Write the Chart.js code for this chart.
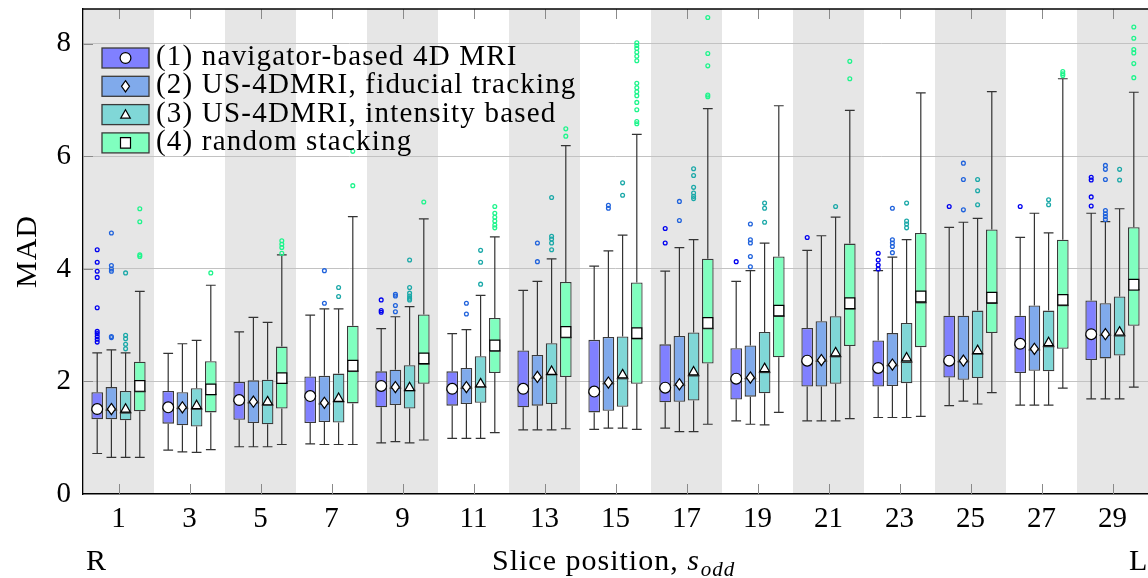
<!DOCTYPE html>
<html>
<head>
<meta charset="utf-8">
<script src="https://cdn.jsdelivr.net/npm/chart.js@4.4.0/dist/chart.umd.min.js"></script>
<style>
  html, body { margin: 0; padding: 0; background: #fff; overflow: hidden; }
  #wrap { width: 1148px; height: 578px; }
</style>
</head>
<body>
<div id="wrap"><canvas id="box"></canvas></div>
<script>
const slices = ['1', '3', '5', '7', '9', '11', '13', '15', '17', '19', '21', '23', '25', '27', '29'];
const seriesNames = ['(1) navigator-based 4D MRI', '(2) US-4DMRI, fiducial tracking', '(3) US-4DMRI, intensity based', '(4) random stacking'];
const fillColors = ['#8080ff', '#80aaeb', '#80d7d7', '#80ffbf'];
const dotColors = ['#0000f0', '#1f62dc', '#1aa8a8', '#1ef58c'];
const markers = ['circle', 'diamond', 'triangle', 'square'];
const yTicks = [0, 2, 4, 6, 8];

// (1) navigator-based 4D MRI
const navMin = [0.72, 0.78, 0.84, 0.89, 0.91, 0.99, 1.14, 1.15, 1.17, 1.30, 1.30, 1.36, 1.57, 1.58, 1.69];
const navQ1 = [1.33, 1.25, 1.32, 1.26, 1.54, 1.57, 1.54, 1.45, 1.63, 1.68, 1.91, 1.91, 2.07, 2.15, 2.38];
const navMed = [1.49, 1.52, 1.65, 1.72, 1.90, 1.85, 1.85, 1.80, 1.87, 2.03, 2.35, 2.22, 2.35, 2.65, 2.82];
const navQ3 = [1.81, 1.83, 1.99, 2.09, 2.18, 2.18, 2.55, 2.74, 2.66, 2.59, 2.95, 2.73, 3.17, 3.17, 3.44];
const navMax = [2.51, 2.50, 2.88, 3.18, 2.94, 2.85, 3.62, 4.05, 3.96, 3.78, 4.33, 3.97, 4.74, 4.56, 4.99];
const navMean = [1.51, 1.54, 1.67, 1.74, 1.92, 1.87, 1.87, 1.82, 1.89, 2.05, 2.37, 2.24, 2.37, 2.67, 2.84];
const navOut = [[4.34, 4.12, 3.96, 3.85, 3.31, 2.89, 2.85, 2.80, 2.75, 2.70], [], [], [], [3.45, 3.26, 3.23], [], [], [],
  [4.72, 4.46], [4.13], [4.56], [4.28, 4.16, 4.07, 4.00], [5.11], [5.11], [5.63, 5.58, 5.28, 5.12]];

// (2) US-4DMRI, fiducial tracking
const fidMin = [0.65, 0.75, 0.84, 0.88, 0.93, 0.99, 1.14, 1.17, 1.11, 1.24, 1.30, 1.36, 1.65, 1.58, 1.69];
const fidQ1 = [1.33, 1.22, 1.26, 1.28, 1.58, 1.60, 1.57, 1.48, 1.64, 1.73, 1.91, 1.92, 2.03, 2.19, 2.41];
const fidMed = [1.49, 1.52, 1.62, 1.60, 1.88, 1.88, 2.06, 1.96, 1.93, 2.05, 2.36, 2.28, 2.35, 2.56, 2.82];
const fidQ3 = [1.90, 1.81, 2.02, 2.10, 2.21, 2.24, 2.47, 2.79, 2.81, 2.64, 3.07, 2.86, 3.17, 3.35, 3.39];
const fidMax = [2.56, 2.67, 3.14, 3.29, 3.15, 2.92, 3.78, 4.32, 4.38, 3.97, 4.59, 4.21, 4.83, 4.99, 4.84];
const fidMean = [1.51, 1.54, 1.64, 1.62, 1.90, 1.90, 2.08, 1.98, 1.95, 2.07, 2.38, 2.30, 2.37, 2.58, 2.84];
const fidOut = [[4.64, 4.06, 4.00, 3.96, 2.80, 2.78], [], [], [3.97, 3.39], [3.55, 3.52, 3.35, 3.24], [3.39, 3.20],
  [4.46, 4.13], [5.13, 5.08], [5.20, 4.86], [4.80, 4.52, 4.46, 4.22, 4.04], [], [5.08, 4.52, 4.46, 4.40, 4.29],
  [5.88, 5.59, 5.05], [], [5.84, 5.77, 5.59, 5.04, 4.98, 4.93, 4.88]];

// (3) US-4DMRI, intensity based
const intMin = [0.65, 0.74, 0.84, 0.88, 0.91, 0.99, 1.14, 1.17, 1.11, 1.23, 1.30, 1.36, 1.60, 1.58, 1.69];
const intQ1 = [1.31, 1.20, 1.24, 1.27, 1.52, 1.62, 1.60, 1.55, 1.66, 1.79, 1.96, 1.97, 2.06, 2.18, 2.46];
const intMed = [1.44, 1.51, 1.58, 1.64, 1.84, 1.90, 2.12, 2.05, 2.10, 2.16, 2.44, 2.34, 2.49, 2.62, 2.81];
const intQ3 = [1.83, 1.88, 2.03, 2.14, 2.29, 2.45, 2.68, 2.80, 2.87, 2.88, 3.16, 3.04, 3.26, 3.26, 3.51];
const intMax = [2.51, 2.73, 3.05, 3.29, 3.33, 3.53, 4.18, 4.60, 4.52, 4.46, 4.92, 4.52, 4.90, 4.64, 5.07];
const intMean = [1.52, 1.58, 1.65, 1.71, 1.90, 1.97, 2.19, 2.13, 2.18, 2.24, 2.52, 2.43, 2.56, 2.70, 2.89];
const intOut = [[3.93, 2.82, 2.76, 2.66, 2.58], [], [], [3.67, 3.51], [4.16, 3.67, 3.57, 3.52, 3.48, 3.45],
  [4.33, 4.12, 3.73], [5.27, 4.58, 4.53, 4.46, 4.34], [5.53, 5.31], [5.78, 5.66, 5.45, 5.35, 5.29, 5.25],
  [5.17, 5.08, 4.83], [5.11], [5.17, 4.85, 4.80, 4.73], [5.59, 5.39, 5.14], [5.23, 5.14], [5.77, 5.58]];

// (4) random stacking
const rndMin = [0.65, 0.79, 0.88, 0.88, 0.96, 1.09, 1.16, 1.15, 1.24, 1.45, 1.34, 1.38, 1.80, 1.88, 1.90];
const rndQ1 = [1.47, 1.45, 1.52, 1.61, 1.96, 2.15, 2.08, 1.96, 2.32, 2.43, 2.63, 2.61, 2.86, 2.58, 2.99];
const rndMed = [1.82, 1.77, 1.97, 2.18, 2.31, 2.54, 2.78, 2.76, 2.94, 3.16, 3.29, 3.40, 3.39, 3.35, 3.63];
const rndQ3 = [2.35, 2.36, 2.62, 2.99, 3.19, 3.13, 3.77, 3.76, 4.18, 4.22, 4.45, 4.64, 4.70, 4.52, 4.74];
const rndMax = [3.60, 3.71, 4.25, 4.93, 4.89, 4.57, 6.19, 6.39, 6.85, 6.90, 6.82, 7.13, 7.15, 7.38, 7.14];
const rndMean = [1.92, 1.86, 2.06, 2.28, 2.41, 2.64, 2.88, 2.86, 3.04, 3.26, 3.39, 3.51, 3.49, 3.45, 3.72];
const rndOut = [[5.07, 4.84, 4.25, 4.22], [3.93], [4.50, 4.44, 4.38, 4.28], [6.09, 5.48], [5.19],
  [5.11, 4.99, 4.92, 4.85, 4.78, 4.73], [6.49, 6.36],
  [8.02, 7.97, 7.92, 7.85, 7.78, 7.70, 7.30, 7.22, 7.15, 7.08, 6.96, 6.83, 6.62, 6.58],
  [8.47, 7.83, 7.61, 7.09, 7.06], [], [7.69, 7.38], [], [], [7.51, 7.47, 7.44],
  [8.30, 8.10, 7.90, 7.84, 7.65, 7.40]];

const boxMin = [navMin, fidMin, intMin, rndMin];
const boxQ1 = [navQ1, fidQ1, intQ1, rndQ1];
const boxMed = [navMed, fidMed, intMed, rndMed];
const boxQ3 = [navQ3, fidQ3, intQ3, rndQ3];
const boxMax = [navMax, fidMax, intMax, rndMax];
const boxMean = [navMean, fidMean, intMean, rndMean];
const boxOut = [navOut, fidOut, intOut, rndOut];

const serif = '"Liberation Serif", "Times New Roman", serif';
const edge = '#3a3a3a';

function drawMarker(ctx, kind, x, y) {
  ctx.save();
  ctx.fillStyle = '#fff';
  ctx.strokeStyle = '#000';
  ctx.lineWidth = 1.2;
  ctx.beginPath();
  if (kind === 'circle') {
    ctx.arc(x, y, 5.4, 0, Math.PI * 2);
  } else if (kind === 'diamond') {
    ctx.moveTo(x, y - 5.6); ctx.lineTo(x + 4, y); ctx.lineTo(x, y + 5.6); ctx.lineTo(x - 4, y); ctx.closePath();
  } else if (kind === 'triangle') {
    ctx.moveTo(x, y - 4.8); ctx.lineTo(x + 4.8, y + 3.6); ctx.lineTo(x - 4.8, y + 3.6); ctx.closePath();
  } else {
    ctx.rect(x - 5, y - 5.3, 10, 10.6);
  }
  ctx.fill();
  ctx.stroke();
  ctx.restore();
}

const boxParts = {
  id: 'boxParts',
  beforeDraw(chart) {
    const {ctx, chartArea: a, scales: {x}} = chart;
    const w = (a.right - a.left) / slices.length;
    ctx.save();
    ctx.fillStyle = '#e6e6e6';
    slices.forEach((s, i) => {
      if (i % 2) return;
      const cx = x.getPixelForValue(i);
      ctx.fillRect(cx - w / 2, a.top, w, a.bottom - a.top);
    });
    ctx.restore();
  },
  afterDatasetsDraw(chart) {
    const {ctx, scales: {y}} = chart;
    ctx.save();
    for (let d = 0; d < 4; d++) {
      const meta = chart.getDatasetMeta(d);
      meta.data.forEach((bar, i) => {
        const cx = bar.x;
        const cap = bar.width * 0.42;
        const yMin = y.getPixelForValue(boxMin[d][i]);
        const yMax = y.getPixelForValue(boxMax[d][i]);
        const yQ1 = y.getPixelForValue(boxQ1[d][i]);
        const yQ3 = y.getPixelForValue(boxQ3[d][i]);
        ctx.strokeStyle = '#333';
        ctx.lineWidth = 1.2;
        ctx.beginPath();
        ctx.moveTo(cx, yQ3); ctx.lineTo(cx, yMax);
        ctx.moveTo(cx - cap, yMax); ctx.lineTo(cx + cap, yMax);
        ctx.moveTo(cx, yQ1); ctx.lineTo(cx, yMin);
        ctx.moveTo(cx - cap, yMin); ctx.lineTo(cx + cap, yMin);
        ctx.stroke();
        // median
        const yMed = y.getPixelForValue(boxMed[d][i]);
        ctx.strokeStyle = edge;
        ctx.lineWidth = 1.4;
        ctx.beginPath();
        ctx.moveTo(bar.x - bar.width / 2, yMed); ctx.lineTo(bar.x + bar.width / 2, yMed);
        ctx.stroke();
        // outliers
        ctx.strokeStyle = dotColors[d];
        ctx.lineWidth = 1.3;
        boxOut[d][i].forEach(v => {
          ctx.beginPath();
          ctx.arc(cx, y.getPixelForValue(v), 1.9, 0, Math.PI * 2);
          ctx.stroke();
        });
        drawMarker(ctx, markers[d], cx, y.getPixelForValue(boxMean[d][i]));
      });
    }
    ctx.restore();
  },
  afterDraw(chart) {
    const {ctx, chartArea: a, scales: {x, y}} = chart;
    ctx.save();
    // inward tick marks
    ctx.strokeStyle = '#8a8a8a';
    ctx.lineWidth = 1;
    ctx.beginPath();
    slices.forEach((s, i) => {
      const px = Math.round(x.getPixelForValue(i)) + 0.5;
      ctx.moveTo(px, a.top); ctx.lineTo(px, a.top + 10);
      ctx.moveTo(px, a.bottom); ctx.lineTo(px, a.bottom - 10);
    });
    yTicks.forEach(v => {
      if (v === 0) return;
      const py = Math.round(y.getPixelForValue(v)) + 0.5;
      ctx.moveTo(a.left, py); ctx.lineTo(a.left + 10, py);
    });
    ctx.stroke();
    // top frame line
    ctx.strokeStyle = '#000';
    ctx.lineWidth = 1.3;
    ctx.beginPath();
    ctx.moveTo(a.left, a.top); ctx.lineTo(a.right, a.top);
    ctx.stroke();

    // legend
    const lx = a.left + 19, ly = a.top + 39, rowH = 28.3;
    ctx.font = '29px ' + serif;
    ctx.letterSpacing = '1.2px';
    ctx.textBaseline = 'alphabetic';
    ctx.textAlign = 'left';
    seriesNames.forEach((name, d) => {
      const top = ly + d * rowH;
      ctx.fillStyle = fillColors[d];
      ctx.fillRect(lx, top, 47, 20);
      ctx.strokeStyle = edge;
      ctx.lineWidth = 1.3;
      ctx.strokeRect(lx, top, 47, 20);
      drawMarker(ctx, markers[d], lx + 23.5, top + 10);
      ctx.fillStyle = '#000';
      ctx.fillText(name, lx + 54, top + 17);
    });

    // axis titles
    ctx.letterSpacing = '1px';
    ctx.font = '30px ' + serif;
    ctx.fillText('R', 86, 570);
    ctx.fillText('L', 1129, 570);
    const t1 = 'Slice position, ';
    ctx.fillText(t1, 492, 570);
    const w1 = ctx.measureText(t1).width;
    ctx.font = 'italic 30px ' + serif;
    ctx.fillText('s', 492 + w1, 570);
    const w2 = ctx.measureText('s').width;
    ctx.font = 'italic 21px ' + serif;
    ctx.fillText('odd', 492 + w1 + w2 + 1, 576);

    ctx.font = '30px ' + serif;
    ctx.translate(36, (a.top + a.bottom) / 2);
    ctx.rotate(-Math.PI / 2);
    ctx.textAlign = 'center';
    ctx.fillText('MAD', 0, 0);
    ctx.restore();
  }
};

const datasets = seriesNames.map((name, d) => ({
  label: name,
  data: boxQ1[d].map((q, i) => [q, boxQ3[d][i]]),
  backgroundColor: fillColors[d],
  borderColor: edge,
  borderWidth: 1.3,
  borderSkipped: false,
  categoryPercentage: 0.8,
  barPercentage: 0.82
}));

new Chart(document.getElementById('box'), {
  type: 'bar',
  data: { labels: slices, datasets: datasets },
  options: {
    responsive: true,
    maintainAspectRatio: false,
    animation: false,
    layout: { padding: { top: 9, right: 0, left: 0, bottom: 0 } },
    plugins: { legend: { display: false }, tooltip: { enabled: false } },
    scales: {
      x: {
        grid: { display: false },
        border: { display: true, color: '#000', width: 1.5 },
        ticks: { color: '#000', font: { family: serif, size: 29 }, padding: 0 },
        afterFit: s => { s.height = 84; s.paddingLeft = 0; s.paddingRight = 0; }
      },
      y: {
        min: 0,
        max: 8.62,
        afterBuildTicks: s => { s.ticks = yTicks.map(v => ({ value: v })); },
        grid: {
          drawTicks: false,
          color: c => (c.tick && c.tick.value === 0) ? 'rgba(0,0,0,0)' : '#c2c2c2',
          lineWidth: 1
        },
        border: { display: true, color: '#000', width: 1.3 },
        ticks: { color: '#000', font: { family: serif, size: 29 }, padding: 12 },
        afterFit: s => { s.width = 83; s.paddingTop = 0; s.paddingBottom = 0; }
      }
    }
  },
  plugins: [boxParts]
});
</script>
</body>
</html>
